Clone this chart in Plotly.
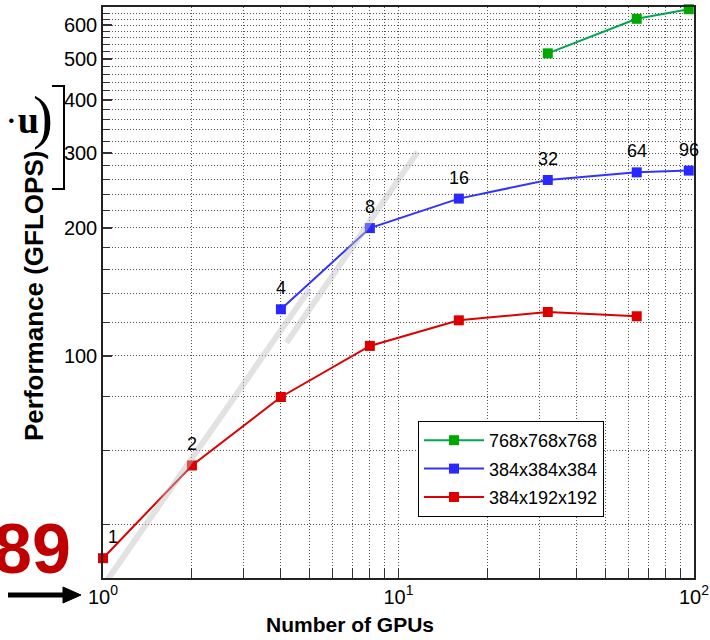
import math
import plotly.graph_objects as go

# ---- data ----
gpus_768 = [32, 64, 96]
perf_768 = [515, 621, 654]

gpus_384 = [4, 8, 16, 32, 64, 96]
perf_384 = [128.7, 199.8, 234.4, 259.3, 270.2, 272.8]
labels_384 = ["4", "8", "16", "32", "64", "96"]

gpus_192 = [1, 2, 4, 8, 16, 32, 64]
perf_192 = [33.4, 55.2, 80, 105.5, 121.2, 126.8, 123.9]
labels_192 = ["1", "2"]          # labels on the first two red points

ideal1_x = [1.0, 5.0]
ideal1_y = [28.7, 143.5]
ideal2_x = [4.18, 11.6]
ideal2_y = [107.4, 302]

series_names = ["768x768x768", "384x384x384", "384x192x192"]

x_major = [1, 10, 100]
x_major_text = ["10<sup>0</sup>", "10<sup>1</sup>", "10<sup>2</sup>"]
x_minor = [2, 3, 4, 5, 6, 7, 8, 9, 20, 30, 40, 50, 60, 70, 80, 90]
y_major = [100, 200, 300, 400, 500, 600]
y_major_text = ["100", "200", "300", "400", "500", "600"]
y_minor = [v for v in range(40, 661, 20) if v not in y_major]

FONT = "Arial, Liberation Sans, sans-serif"
GREEN_L, GREEN_M = "#00a651", "#00a800"
BLUE_L, BLUE_M = "#3333ff", "#2828ff"
RED_L, RED_M = "#dd0000", "#dd0000"

fig = go.Figure()

fig.add_trace(go.Scatter(
    x=gpus_768, y=perf_768, name=series_names[0], mode="lines+markers",
    line=dict(color=GREEN_L, width=2), legendgroup="a",
    marker=dict(symbol="square", size=10, color=GREEN_M),
    cliponaxis=False))
fig.add_trace(go.Scatter(
    x=gpus_384, y=perf_384, name=series_names[1], mode="lines+markers",
    line=dict(color=BLUE_L, width=2), legendgroup="b",
    marker=dict(symbol="square", size=10, color=BLUE_M),
    cliponaxis=False))
fig.add_trace(go.Scatter(
    x=gpus_192, y=perf_192, name=series_names[2], mode="lines+markers",
    line=dict(color=RED_L, width=2), legendgroup="c",
    marker=dict(symbol="square", size=10, color=RED_M),
    cliponaxis=False))

for xs, ys in [(ideal1_x, ideal1_y), (ideal2_x, ideal2_y)]:
    fig.add_trace(go.Scatter(
        x=xs, y=ys, mode="lines", showlegend=False, hoverinfo="skip",
        line=dict(color="rgba(190,190,190,0.45)", width=6)))

grid = dict(showgrid=True, gridcolor="#555555", griddash="1px,2px", gridwidth=1)

fig.update_xaxes(
    type="log", range=[0, 2], automargin=False,
    tickmode="array", tickvals=x_major, ticktext=x_major_text,
    ticks="inside", ticklen=10, tickwidth=1, tickcolor="#333",
    tickfont=dict(family=FONT, size=20, color="black"),
    showline=True, linecolor="#222", linewidth=1.5, mirror=True,
    zeroline=False,
    minor=dict(tickmode="array", tickvals=x_minor, ticks="inside", ticklen=10,
               tickwidth=1, tickcolor="#333", **grid),
    **grid)

fig.update_yaxes(
    type="log", range=[math.log10(30), math.log10(662)], automargin=False,
    tickmode="array", tickvals=y_major, ticktext=y_major_text,
    ticks="inside", ticklen=9, tickwidth=1.5, tickcolor="#333",
    tickfont=dict(family=FONT, size=20, color="black"),
    showline=True, linecolor="#222", linewidth=1.5, mirror=True,
    zeroline=False,
    minor=dict(tickmode="array", tickvals=y_minor, ticks="inside", ticklen=7,
               tickwidth=1, tickcolor="#333", **grid),
    **grid)

W, H = 710, 640
ML, MR, MT, MB = 103, 16, 7, 62
PW, PH = W - ML - MR, H - MT - MB

def px(xp):
    return (xp - ML) / PW

def py(yp):
    return (H - MB - yp) / PH

annotations = []
# point labels (GPU counts) placed above the markers, in data coordinates
for xs, ys, labs in [(gpus_384, perf_384, labels_384), (gpus_192, perf_192, labels_192)]:
    for g, p, lab in zip(xs, ys, labs):
        annotations.append(dict(
            text=lab, x=math.log10(g), y=math.log10(p), xref="x", yref="y",
            xanchor="center", yanchor="middle", showarrow=False,
            yshift=21, xshift=10 if g == 1 else 0,
            font=dict(family=FONT, size=18, color="black")))

annotations += [
    dict(text="<b>Number of GPUs</b>", x=px(350), y=py(624), xref="paper", yref="paper",
         xanchor="center", yanchor="middle", showarrow=False,
         font=dict(family=FONT, size=21, color="black")),
    dict(text="<b>Performance (GFLOPS)</b>", x=px(34), y=py(296), xref="paper", yref="paper",
         xanchor="center", yanchor="middle", showarrow=False, textangle=-90,
         font=dict(family=FONT, size=26, color="black")),
    # fragments of neighbouring slide content visible at the left edge
    dict(text="·<b>u</b>", x=px(41), y=py(120), xref="paper", yref="paper",
         xanchor="right", yanchor="middle", showarrow=False,
         font=dict(family="Liberation Serif, serif", size=38, color="black")),
    dict(text=")", x=px(55), y=py(117), xref="paper", yref="paper",
         xanchor="right", yanchor="middle", showarrow=False,
         font=dict(family="Liberation Serif, serif", size=60, color="black")),
    dict(text="<b>89</b>", x=px(73), y=py(549), xref="paper", yref="paper",
         xanchor="right", yanchor="middle", showarrow=False,
         font=dict(family=FONT, size=70, color="#c00000")),
]

shapes = [
    dict(type="path", xref="paper", yref="paper",
         path=f"M {px(52)} {py(86)} L {px(64)} {py(86)} L {px(64)} {py(189)} L {px(52)} {py(189)}",
         line=dict(color="black", width=2)),
    # arrow pointing at the 10^0 label
    dict(type="line", xref="paper", yref="paper",
         x0=px(8), x1=px(66), y0=py(595), y1=py(595),
         line=dict(color="black", width=5)),
    dict(type="path", xref="paper", yref="paper",
         path=f"M {px(63)} {py(587)} L {px(81)} {py(595)} L {px(63)} {py(603)} Z",
         fillcolor="black", line=dict(color="black", width=1)),
]

fig.update_layout(
    width=W, height=H,
    margin=dict(l=ML, r=MR, t=MT, b=MB),
    paper_bgcolor="white", plot_bgcolor="white",
    font=dict(family=FONT, color="black"),
    showlegend=True,
    legend=dict(x=px(418), y=py(421), xanchor="left", yanchor="top",
                bgcolor="white", bordercolor="black", borderwidth=1,
                font=dict(family=FONT, size=18, color="black"),
                tracegroupgap=2, itemwidth=60),
    annotations=annotations,
    shapes=shapes,
)

fig.write_html("out.html", config={"displayModeBar": False},
               post_script="document.body.style.margin='0';document.body.style.overflow='hidden';")
